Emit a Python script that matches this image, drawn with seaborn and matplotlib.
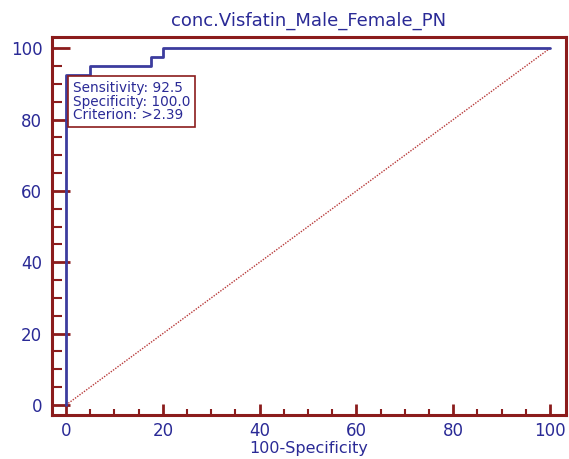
import numpy as np
import pandas as pd
import matplotlib
matplotlib.use("Agg")
import matplotlib.pyplot as plt
import seaborn as sns
from matplotlib.ticker import MultipleLocator

# ROC curve points (100-Specificity, Sensitivity)
fpr = [0, 0, 5, 5, 17.5, 17.5, 20, 20, 100]
tpr = [0, 92.5, 92.5, 95, 95, 97.5, 97.5, 100, 100]
diag = [0, 100]
box_lines = ["Sensitivity: 92.5", "Specificity: 100.0", "Criterion: >2.39"]

navy = "#2a2a96"
line_blue = "#3c3c9e"
dark_red = "#8b1c1c"

sns.set_style("white")
plt.rcParams["font.family"] = ["DejaVu Sans"]

fig = plt.figure(figsize=(5.69, 4.59), dpi=100)
ax = fig.add_axes([0.0914, 0.096, 0.9033, 0.823])

sns.lineplot(x=diag, y=diag, ax=ax, color="#b83a3a", linestyle=(0, (1, 1)),
             linewidth=1.0, estimator=None)
roc = pd.DataFrame({"fpr": fpr, "tpr": tpr})
sns.lineplot(data=roc, x="fpr", y="tpr", ax=ax, sort=False, estimator=None,
             color=line_blue, linewidth=2)

ax.set_xlim(-2.9, 103.3)
ax.set_ylim(-2.8, 103.1)
ax.xaxis.set_major_locator(MultipleLocator(20))
ax.xaxis.set_minor_locator(MultipleLocator(5))
ax.yaxis.set_major_locator(MultipleLocator(20))
ax.yaxis.set_minor_locator(MultipleLocator(5))

ax.tick_params(axis="x", which="major", direction="in", length=8, width=2,
               color=dark_red, labelcolor=navy, labelsize=12, pad=5)
ax.tick_params(axis="x", which="minor", direction="in", length=4, width=1.5,
               color=dark_red)
ax.tick_params(axis="y", which="major", direction="in", length=13, width=2,
               color=dark_red, labelcolor=navy, labelsize=12, pad=7)
ax.tick_params(axis="y", which="minor", direction="in", length=7, width=1.5,
               color=dark_red)
ax.xaxis.set_ticks_position("bottom")
ax.yaxis.set_ticks_position("left")

for s in ax.spines.values():
    s.set_visible(True)
    s.set_color(dark_red)
    s.set_linewidth(2.2)

ax.set_xlabel("100-Specificity", color=navy, fontsize=11.5, labelpad=1)
ax.set_ylabel("")
ax.set_title("conc.Visfatin_Male_Female_PN", color=navy, fontsize=13, pad=8)

ax.text(1.45, 90.8, "\n".join(box_lines), color=navy, fontsize=9.8,
        va="top", ha="left", linespacing=0.95,
        bbox=dict(boxstyle="square,pad=0.35", facecolor="white",
                  edgecolor=dark_red, linewidth=1.2))

fig.savefig("out.png", dpi=100)
